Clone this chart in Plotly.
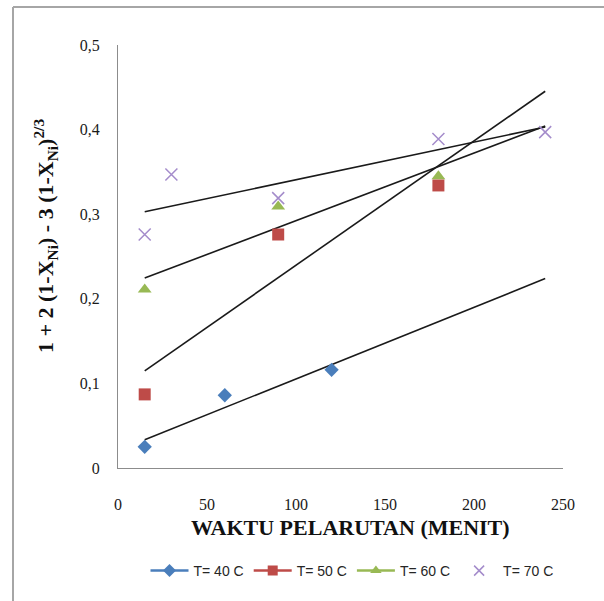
import numpy as np
import plotly.graph_objects as go

# ---- data ----
x40 = [15, 60, 120]
y40 = [0.025, 0.086, 0.116]
x50 = [15, 90, 180]
y50 = [0.087, 0.276, 0.334]
x60 = [15, 90, 180]
y60 = [0.211, 0.309, 0.345]
x70 = [15, 30, 90, 180, 240]
y70 = [0.276, 0.347, 0.319, 0.389, 0.397]
trend_end = 240
names = ["T= 40 C", "T= 50 C", "T= 60 C", "T= 70 C"]
xticks = [0, 50, 100, 150, 200, 250]
yticks = [0, 0.1, 0.2, 0.3, 0.4, 0.5]

colors = ["#4A7EBB", "#BE4B48", "#98B954", "#A48CCB"]
symbols = ["diamond", "square", "triangle-up", "x-thin-open"]
sizes = [11, 12, 12, 12]

series = [(x40, y40), (x50, y50), (x60, y60), (x70, y70)]

fig = go.Figure()

# trendlines (linear least squares fits)
for xs, ys in series:
    k, b = np.polyfit(xs, ys, 1)
    tx = np.array([min(xs), trend_end], dtype=float)
    fig.add_trace(go.Scatter(x=tx, y=k * tx + b, mode="lines",
                             line=dict(color="#1a1a1a", width=1.6),
                             showlegend=False, hoverinfo="skip"))

for i, (xs, ys) in enumerate(series):
    mk = dict(symbol=symbols[i], size=sizes[i], color=colors[i])
    if symbols[i] == "x-thin-open":
        mk["line"] = dict(color=colors[i], width=1.5)
    else:
        mk["line"] = dict(width=0)
    fig.add_trace(go.Scatter(x=xs, y=ys, mode="markers", marker=mk,
                             showlegend=False, name=names[i]))

# legend entries
for i in range(4):
    mk = dict(symbol=symbols[i], size=10, color=colors[i])
    if symbols[i] == "x-thin-open":
        mk["line"] = dict(color=colors[i], width=1.5)
        mode = "markers"
    else:
        mk["line"] = dict(width=0)
        mode = "lines+markers"
    fig.add_trace(go.Scatter(x=[None], y=[None], mode=mode, name=names[i],
                             marker=mk, line=dict(color=colors[i], width=2.5)))

L, R, T, B = 118, 41, 45, 133
W, H = 604, 601
pw, ph = W - L - R, H - T - B

def px_x(p):
    return (p - L) / pw

def px_y(p):
    return (H - B - p) / ph

axis_common = dict(showgrid=False, zeroline=False, showline=True,
                   linecolor="#8c8c8c", linewidth=1.2, ticks="",
                   tickfont=dict(family="Liberation Serif", size=16, color="#1a1a1a"))

fig.update_layout(
    width=W, height=H,
    margin=dict(l=L, r=R, t=T, b=B),
    plot_bgcolor="white", paper_bgcolor="white",
    separators=",.",
    xaxis=dict(range=[0, 250], tickvals=xticks, ticklabelstandoff=22, **axis_common),
    yaxis=dict(range=[0, 0.5], tickvals=yticks, ticklabelstandoff=14, **axis_common),
    legend=dict(orientation="h", x=px_x(352), xanchor="center",
                y=px_y(571), yanchor="middle",
                font=dict(family="Liberation Sans", size=14, color="#262626"),
                itemwidth=38, tracegroupgap=0),
    annotations=[
        dict(text="<b>WAKTU PELARUTAN (MENIT)</b>", x=px_x(350), y=px_y(527),
             xref="paper", yref="paper", showarrow=False,
             xanchor="center", yanchor="middle",
             font=dict(family="Liberation Serif", size=22, color="#111111")),
        dict(text="<b>1 + 2 (1-X<sub>Ni</sub>) - 3 (1-X<sub>Ni</sub>)<sup>2/3</sup></b>",
             x=px_x(45), y=px_y(236), xref="paper", yref="paper",
             showarrow=False, textangle=-90, xanchor="center", yanchor="middle",
             font=dict(family="Liberation Serif", size=22, color="#111111")),
    ],
    shapes=[
        dict(type="line", xref="paper", yref="paper",
             x0=px_x(13), x1=px_x(13), y0=px_y(7), y1=px_y(620),
             line=dict(color="#a6a6a6", width=2)),
        dict(type="line", xref="paper", yref="paper",
             x0=px_x(13), x1=px_x(620), y0=px_y(7), y1=px_y(7),
             line=dict(color="#a6a6a6", width=2)),
    ],
)

fig.write_html("out.html")
